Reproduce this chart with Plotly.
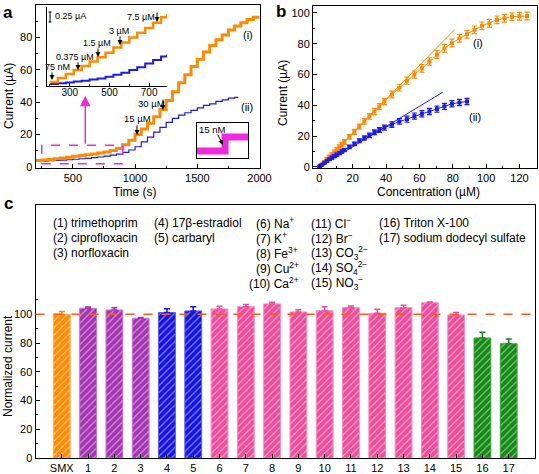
import plotly.graph_objects as go

W, H = 539, 474
def px(x): return x / W
def py(y): return 1 - y / H
def dom_x(a, b): return [a / W, b / W]
def dom_y(top, bottom): return [1 - bottom / H, 1 - top / H]

FONT = "Arial, Liberation Sans, Helvetica, sans-serif"
ORANGE = "#FF8A00"
BLUE = "#1A1AF0"
MAGENTA = "#F028E0"

# ---------------- panel a: amperometric i-t curves ----------------
time_i = [200, 250, 300, 350, 400, 450, 500, 550, 600, 650, 700, 750, 800, 850, 900, 950,
          1000, 1050, 1100, 1150, 1200, 1250, 1300, 1350, 1400, 1450, 1500, 1550, 1600, 1650,
          1700, 1750, 1800, 1850, 1900, 1950, 2000]
current_i = [4.0, 4.3, 4.7, 5.1, 5.6, 6.1, 6.6, 7.1, 7.6, 8.1, 8.7, 9.3, 10.2, 11.5, 13.8, 16.5,
             20.0, 23.5, 27.0, 31.0, 35.5, 41.0, 46.5, 52.0, 57.0, 62.0, 66.5, 71.0, 75.0, 78.5,
             81.5, 84.5, 87.0, 89.0, 91.0, 92.5, 93.0]
time_ii = [200, 250, 300, 350, 400, 450, 500, 550, 600, 650, 700, 750, 800, 850, 900, 950,
           1000, 1050, 1100, 1150, 1200, 1250, 1300, 1350, 1400, 1450, 1500, 1550, 1600, 1650,
           1700, 1750, 1800, 1830]
current_ii = [3.6, 3.7, 3.9, 4.1, 4.3, 4.5, 4.8, 5.1, 5.4, 5.8, 6.2, 6.7, 7.3, 8.0, 9.0, 10.5,
              12.5, 15.5, 18.5, 21.5, 24.5, 27.5, 30.0, 32.0, 33.5, 35.0, 36.5, 38.0, 39.0, 40.5,
              41.5, 42.5, 43.0, 43.0]

# inset (low-concentration zoom), current in µA relative
inset_time = [200, 240, 280, 320, 360, 400, 440, 480, 520, 560, 600, 640, 680, 720, 760, 790]
inset_i = [0.10, 0.20, 0.30, 0.40, 0.50, 0.61, 0.72, 0.83, 0.96, 1.09, 1.21, 1.33, 1.45, 1.58, 1.72, 1.80]
inset_ii = [0.05, 0.07, 0.09, 0.11, 0.13, 0.16, 0.19, 0.23, 0.28, 0.33, 0.40, 0.47, 0.56, 0.65, 0.74, 0.78]

# 15 nM step inset
step_t = [0, 5.5, 10]
step_level = [0, 1, 1]

# ---------------- panel b: calibration ----------------
conc_i = [0.075, 0.375, 1.5, 3, 4.5, 6, 7.5, 9, 10.5, 12, 13.5, 15, 18, 21, 24, 27, 30, 33, 36, 39,
          43.5, 48, 52.5, 57, 61.5, 66, 70.5, 75, 79.5, 84, 88.5, 93, 97.5, 102, 106.5, 111, 115.5, 120, 124.5]
cur_i = [0.3, 0.6, 1.8, 3.3, 5.0, 6.6, 8.2, 9.8, 11.5, 13.0, 14.6, 16.2, 19.5, 22.8, 26.2, 29.5, 32.8, 36.0, 39.2, 42.5,
         47.0, 51.5, 56.0, 60.0, 64.0, 68.5, 73.0, 77.0, 80.5, 83.5, 86.2, 89.0, 91.6, 93.3, 95.5, 96.5, 97.6, 97.8, 98.0]
err_i = [0.3, 0.4, 0.6, 0.8, 1, 1, 1, 1.2, 1.2, 1.3, 1.3, 1.5, 1.5, 1.6, 1.6, 1.8, 1.8, 2, 2, 2,
         2.2, 2.2, 2.3, 2.3, 2.4, 2.4, 2.5, 2.5, 2.5, 2.5, 2.5, 2.5, 2.5, 2.5, 2.5, 2.5, 2.5, 2.5, 2.5]
conc_ii = [0.075, 0.375, 1.5, 3, 4.5, 6, 7.5, 9, 10.5, 12, 13.5, 15, 18, 21, 24, 27, 30, 33, 36, 39,
           43.5, 48, 52.5, 57, 61.5, 66, 70.5, 75, 79.5, 84, 88.5]
cur_ii = [0.1, 0.4, 1.3, 2.6, 3.8, 5.0, 6.0, 7.0, 8.0, 9.0, 10.0, 11.0, 13.0, 15.0, 17.0, 18.8, 20.5, 22.5, 24.0, 25.5,
          27.5, 29.5, 31.0, 33.0, 34.5, 36.0, 37.5, 39.3, 41.0, 41.8, 42.5]
err_ii = [0.2, 0.3, 0.5, 0.6, 0.7, 0.8, 0.9, 1, 1, 1, 1.1, 1.1, 1.2, 1.2, 1.3, 1.4, 1.5, 1.5, 1.6, 1.7,
          1.8, 1.8, 2, 2, 2, 2, 2, 2, 2, 2, 2]
fit_i_conc = [0, 81]
fit_i_cur = [0, 89]
fit_ii_conc = [0, 74]
fit_ii_cur = [0, 48.5]

# ---------------- panel c: interference ----------------
categories = ["SMX", "1", "2", "3", "4", "5", "6", "7", "8", "9", "10", "11", "12", "13", "14", "15", "16", "17"]
norm_current = [100, 104.2, 103, 97.2, 101.2, 102.3, 103.7, 105.3, 107.2, 101.6, 102.5, 104.6, 100.7, 104.6, 108, 99.5, 83.5, 79.5]
norm_err = [1.9, 0.9, 1.5, 0.5, 2.6, 3.0, 1.9, 1.4, 1.1, 1.6, 2.7, 1.2, 2.7, 1.6, 0.5, 1.8, 4.0, 3.2]
legend_col1 = ["(1) trimethoprim", "(2) ciprofloxacin", "(3) norfloxacin"]
legend_col2 = ["(4) 17β-estradiol", "(5) carbaryl"]
legend_col3 = ["(6) Na<sup>+</sup>", "(7) K<sup>+</sup>", "(8) Fe<sup>3+</sup>", "(9) Cu<sup>2+</sup>", "(10) Ca<sup>2+</sup>"]
legend_col4 = ["(11) Cl<sup>−</sup>", "(12) Br<sup>−</sup>", "(13) CO<sub>3</sub><sup>2−</sup>",
               "(14) SO<sub>4</sub><sup>2−</sup>", "(15) NO<sub>3</sub><sup>−</sup>"]
legend_col5 = ["(16) Triton X-100", "(17) sodium dodecyl sulfate"]

groups = [(0, 1, "#FF8C00", "#FFB060"), (1, 4, "#A634B2", "#C878D0"), (4, 6, "#1414E6", "#5A5AF0"),
          (6, 16, "#EE4C9C", "#F590C4"), (16, 18, "#138A13", "#40A840")]

fig = go.Figure()

# panel a traces
fig.add_trace(go.Scatter(x=time_ii, y=current_ii, mode="lines", line=dict(color=BLUE, width=1.2, shape="hv"),
                         xaxis="x", yaxis="y"))
fig.add_trace(go.Scatter(x=time_i, y=current_i, mode="lines", line=dict(color=ORANGE, width=3, shape="hv"),
                         xaxis="x", yaxis="y"))
fig.add_trace(go.Scatter(x=inset_time, y=inset_ii, mode="lines", line=dict(color=BLUE, width=2, shape="hv"),
                         xaxis="x2", yaxis="y2"))
fig.add_trace(go.Scatter(x=inset_time, y=inset_i, mode="lines", line=dict(color=ORANGE, width=2.5, shape="hv"),
                         xaxis="x2", yaxis="y2"))
fig.add_trace(go.Scatter(x=step_t, y=step_level, mode="lines", line=dict(color=MAGENTA, width=7, shape="hv"),
                         xaxis="x3", yaxis="y3"))

# panel b traces
fig.add_trace(go.Scatter(x=fit_i_conc, y=fit_i_cur, mode="lines", line=dict(color=ORANGE, width=1),
                         xaxis="x4", yaxis="y4"))
fig.add_trace(go.Scatter(x=fit_ii_conc, y=fit_ii_cur, mode="lines", line=dict(color=BLUE, width=1),
                         xaxis="x4", yaxis="y4"))
fig.add_trace(go.Scatter(x=conc_i, y=cur_i, mode="lines+markers", line=dict(color=ORANGE, width=1),
                         marker=dict(color=ORANGE, size=4, symbol="square"),
                         error_y=dict(type="data", array=err_i, color=ORANGE, thickness=1.2, width=2.5),
                         xaxis="x4", yaxis="y4"))
fig.add_trace(go.Scatter(x=conc_ii, y=cur_ii, mode="lines+markers", line=dict(color=BLUE, width=1),
                         marker=dict(color=BLUE, size=4, symbol="square"),
                         error_y=dict(type="data", array=err_ii, color=BLUE, thickness=1.2, width=2.5),
                         xaxis="x4", yaxis="y4"))

# panel c bars
for a, b, col, edge in groups:
    fig.add_trace(go.Bar(x=categories[a:b], y=norm_current[a:b], width=0.64,
                         marker=dict(color=col, line=dict(color=edge, width=1),
                                     pattern=dict(shape="/", fgcolor="white", fillmode="overlay", size=5, solidity=0.22)),
                         error_y=dict(type="data", array=norm_err[a:b], arrayminus=[0] * (b - a),
                                      color=col, thickness=1.5, width=3),
                         xaxis="x5", yaxis="y5"))

tf = dict(size=11, color="black", family=FONT)
base = dict(showline=True, linecolor="black", linewidth=1, mirror=True, ticks="inside", ticklen=4,
            tickwidth=1, tickcolor="black", showgrid=False, zeroline=False, tickfont=tf, automargin=False)

fig.update_layout(
    template="none",
    width=W, height=H, autosize=False, showlegend=False,
    margin=dict(l=0, r=0, t=0, b=0, pad=0),
    paper_bgcolor="white", plot_bgcolor="rgba(0,0,0,0)",
    font=dict(family=FONT, color="black"),
    barmode="overlay",
    xaxis=dict(base, domain=dom_x(35.5, 259.5), range=[200, 2000], anchor="y", tick0=0, dtick=500,
               minor=dict(ticks="inside", ticklen=2, dtick=250, tick0=0, tickcolor="black")),
    yaxis=dict(base, domain=dom_y(5, 168), range=[-0.6, 100], anchor="x", tick0=0, dtick=20,
               minor=dict(ticks="inside", ticklen=2, dtick=10, tick0=0, tickcolor="black")),
    xaxis2=dict(base, mirror=False, domain=dom_x(47, 167), range=[185, 790], anchor="y2",
                tickmode="array", tickvals=[300, 500, 700], tickfont=dict(size=10, color="black", family=FONT),
                ticklen=3, ticklabelstandoff=-3,
                minor=dict(ticks="inside", ticklen=2, dtick=100, tick0=0, tickcolor="black")),
    yaxis2=dict(base, mirror=False, domain=dom_y(7, 86), range=[0, 1.975], anchor="x2",
                ticks="", showticklabels=False),
    xaxis3=dict(base, domain=dom_x(197, 248), range=[0, 10], anchor="y3", ticks="", showticklabels=False),
    yaxis3=dict(base, domain=dom_y(123, 158), range=[-0.5, 2.0], anchor="x3", ticks="", showticklabels=False),
    xaxis4=dict(base, domain=dom_x(313, 537), range=[-3.8, 130.5], anchor="y4", tick0=0, dtick=20,
                minor=dict(ticks="inside", ticklen=2, dtick=10, tick0=0, tickcolor="black")),
    yaxis4=dict(base, domain=dom_y(6, 168), range=[-0.7, 104.5], anchor="x4", tick0=0, dtick=20,
                minor=dict(ticks="inside", ticklen=2, dtick=10, tick0=0, tickcolor="black")),
    xaxis5=dict(base, domain=dom_x(35.5, 535), type="category", categoryorder="array", categoryarray=categories,
                range=[-1, 18], anchor="y5"),
    yaxis5=dict(base, domain=dom_y(205, 458), range=[0, 176], anchor="x5", tickmode="array",
                tickvals=[0, 20, 40, 60, 80, 100],
                minor=dict(ticks="inside", ticklen=2, tickmode="array", tickvals=[10, 30, 50, 70, 90, 110],
                           tickcolor="black")),
)

shapes = [
    dict(type="rect", xref="x", yref="y", x0=250, x1=900, y0=2, y1=13.5,
         line=dict(color=MAGENTA, width=1.5, dash="dash")),
    dict(type="line", xref="x5 domain", yref="y5", x0=0, x1=1, y0=100, y1=100,
         line=dict(color="#FF5A1E", width=1.5, dash="dash"), layer="above"),
    # 0.25 µA scale bar
    dict(type="line", xref="paper", yref="paper", x0=px(50), x1=px(50), y0=py(12), y1=py(22),
         line=dict(color="black", width=1)),
    dict(type="line", xref="paper", yref="paper", x0=px(48.5), x1=px(51.5), y0=py(12), y1=py(12),
         line=dict(color="black", width=1)),
    dict(type="line", xref="paper", yref="paper", x0=px(48.5), x1=px(51.5), y0=py(22), y1=py(22),
         line=dict(color="black", width=1)),
]
fig.update_layout(shapes=shapes)

def txt(x, y, s, size=10, xanchor="center", angle=0, bold=False):
    return dict(x=px(x), y=py(y), xref="paper", yref="paper", text=(f"<b>{s}</b>" if bold else s),
                showarrow=False, textangle=angle,
                font=dict(size=size, family=FONT, color="black"), xanchor=xanchor, yanchor="middle")

def arr(tipx, tipy, tailx, taily, color="black", width=1, size=1):
    return dict(x=px(tipx), y=py(tipy), xref="paper", yref="paper", ax=tailx - tipx, ay=taily - tipy,
                axref="pixel", ayref="pixel", showarrow=True, arrowhead=2, arrowsize=size,
                arrowwidth=width, arrowcolor=color, text="", standoff=0)

ann = [
    txt(8, 12, "a", 17, bold=True), txt(281, 11, "b", 17, bold=True), txt(8, 203, "c", 17, bold=True),
    txt(9, 96, "Current (µA)", 12, angle=-90), txt(135, 192, "Time (s)", 12),
    txt(283, 93, "Current (µA)", 12, angle=-90), txt(428, 192, "Concentration (µM)", 12),
    txt(8, 366, "Normalized current", 12, angle=-90),
    txt(248, 35, "(i)", 11), txt(247, 107, "(ii)", 11),
    txt(478, 43, "(i)", 11), txt(475, 117, "(ii)", 11),
    txt(137, 118, "15 µM", 9.5), arr(137, 135, 137, 124),
    txt(151, 103, "30 µM", 9.5), arr(163, 110, 163, 98),
    txt(212, 129, "15 nM", 9.5), arr(223, 145, 217, 133),
    txt(53, 16, "0.25 µA", 9, xanchor="left"),
    txt(57, 67, "75 nM", 9), arr(52, 80, 52, 71),
    txt(75, 57, "0.375 µM", 9), arr(78, 70, 78, 61),
    txt(97, 43, "1.5 µM", 9), arr(98, 57, 98, 47),
    txt(118.5, 31, "3 µM", 9), arr(120, 45, 120, 35),
    txt(141, 17, "7.5 µM", 9), arr(157, 22, 157, 11),
    dict(x=600, y=44, xref="x", yref="y", ax=600, ay=13.5, axref="x", ayref="y", showarrow=True,
         arrowhead=2, arrowsize=1.4, arrowwidth=1.5, arrowcolor=MAGENTA, text="", standoff=0),
]
rows = [223, 238, 253, 268, 283]
for i, s in enumerate(legend_col1):
    ann.append(txt(51, rows[i], s, 12, xanchor="left"))
for i, s in enumerate(legend_col2):
    ann.append(txt(152, rows[i], s, 12, xanchor="left"))
for i, s in enumerate(legend_col3):
    ann.append(txt(254 if i < 4 else 247, rows[i], s, 12, xanchor="left"))
for i, s in enumerate(legend_col4):
    ann.append(txt(309, rows[i], s, 12, xanchor="left"))
for i, s in enumerate(legend_col5):
    ann.append(txt(377, rows[i], s, 12, xanchor="left"))
fig.update_layout(annotations=ann)

fig.write_html("out.html", config={"displayModeBar": False},
               post_script="document.body.style.margin='0';document.body.style.overflow='hidden';")
